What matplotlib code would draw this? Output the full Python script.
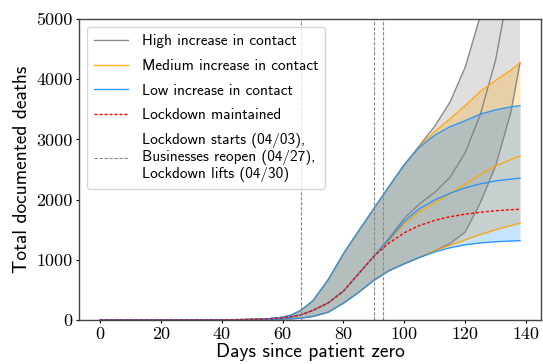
import matplotlib
matplotlib.use("Agg")
import matplotlib.pyplot as plt

days = [0, 10, 20, 30, 40, 45, 50, 55, 60, 63, 66, 70, 75, 80, 85, 90, 95, 100,
        105, 110, 115, 120, 125, 130, 135, 138]

# Lockdown maintained
lockdown = [0, 0, 0, 1, 3, 5, 9, 17, 35, 55, 85, 160, 285, 480, 770, 1060, 1280, 1450,
            1570, 1655, 1715, 1758, 1790, 1815, 1832, 1840]

# High increase in contact (low / mid / high)
high_lo = [0, 0, 0, 0, 1, 2, 4, 8, 15, 22, 30, 60, 130, 280, 460, 660, 820, 935,
           1040, 1150, 1270, 1460, 1950, 2560, 3450, 4270]
high_mid = [0, 0, 0, 1, 3, 5, 9, 17, 35, 55, 85, 160, 285, 480, 770, 1060, 1360, 1690,
            1930, 2120, 2370, 2780, 3420, 4320, 5700, 6700]
high_hi = [0, 0, 0, 1, 4, 6, 10, 20, 45, 85, 160, 320, 670, 1100, 1480, 1850, 2220, 2580,
           2900, 3220, 3620, 4200, 5060, 6200, 7600, 8600]

# Medium increase in contact
med_lo = [0, 0, 0, 0, 1, 2, 4, 8, 15, 22, 30, 60, 130, 280, 460, 660, 820, 935,
          1040, 1150, 1240, 1330, 1420, 1500, 1570, 1606]
med_mid = [0, 0, 0, 1, 3, 5, 9, 17, 35, 55, 85, 160, 285, 480, 770, 1060, 1320, 1600,
           1800, 1950, 2095, 2255, 2415, 2560, 2665, 2724]
med_hi = [0, 0, 0, 1, 4, 6, 10, 20, 45, 85, 160, 320, 670, 1100, 1480, 1850, 2220, 2580,
          2880, 3130, 3340, 3560, 3800, 3980, 4150, 4270]

# Low increase in contact
low_lo = [0, 0, 0, 0, 1, 2, 4, 8, 15, 22, 30, 60, 130, 280, 460, 660, 820, 935,
          1040, 1130, 1200, 1250, 1280, 1300, 1312, 1318]
low_mid = [0, 0, 0, 1, 3, 5, 9, 17, 35, 55, 85, 160, 285, 480, 770, 1060, 1340, 1640,
           1850, 1995, 2105, 2195, 2262, 2310, 2340, 2355]
low_hi = [0, 0, 0, 1, 4, 6, 10, 20, 45, 85, 160, 320, 670, 1100, 1480, 1850, 2220, 2580,
          2870, 3070, 3210, 3310, 3420, 3490, 3540, 3560]

event_days = [66, 90, 93]

labels = ["High increase in contact", "Medium increase in contact",
          "Low increase in contact", "Lockdown maintained",
          "Lockdown starts (04/03),\nBusinesses reopen (04/27),\nLockdown lifts (04/30)"]

C_GRAY = "#808080"
C_ORANGE = "#ffa500"
C_BLUE = "#1e90ff"

fig = plt.figure(figsize=(5.43, 3.64), dpi=100)
ax = fig.add_axes([79/543, 44/364, 462/543, 301/364])

sans = "cmss10"
serif = "cmr10"

scen = [(high_lo, high_mid, high_hi, C_GRAY, labels[0]),
        (med_lo, med_mid, med_hi, C_ORANGE, labels[1]),
        (low_lo, low_mid, low_hi, C_BLUE, labels[2])]

for lo, mid, hi, c, lab in scen:
    ax.fill_between(days, lo, hi, color=c, alpha=0.25, linewidth=0)
    ax.plot(days, lo, color=c, lw=1.0, alpha=0.9)
    ax.plot(days, mid, color=c, lw=1.0, alpha=0.9)
    ax.plot(days, hi, color=c, lw=1.0, alpha=0.9, label=lab)

ax.plot(days, lockdown, color="red", lw=1.0, ls=(0, (2.2, 1.4)), label=labels[3])

for i, d in enumerate(event_days):
    ax.axvline(d, color="#888888", lw=0.8, ls=(0, (3, 1.5)),
               label=labels[4] if i == 0 else None)

ax.set_xlim(-6.9, 144.9)
ax.set_ylim(0, 5000)
ax.set_xticks([0, 20, 40, 60, 80, 100, 120, 140])
ax.set_yticks([0, 1000, 2000, 3000, 4000, 5000])
for t in ax.get_xticklabels() + ax.get_yticklabels():
    t.set_fontfamily(serif)
    t.set_fontsize(13)
ax.tick_params(length=2.5, width=0.8, pad=2)

ax.set_xlabel("Days since patient zero", fontfamily=sans, fontsize=14, labelpad=1)
ax.set_ylabel("Total documented deaths", fontfamily=sans, fontsize=14, labelpad=4)

for s in ax.spines.values():
    s.set_color("#444444")
    s.set_linewidth(1.0)

leg = ax.legend(loc="upper left", prop={"family": sans, "size": 11},
                frameon=True, fancybox=True, framealpha=0.8, edgecolor="#cccccc",
                handlelength=2.2, handletextpad=0.9, borderpad=0.45,
                labelspacing=0.7, bbox_to_anchor=(0.0, 1.0), borderaxespad=0.55)

fig.savefig("out.png", dpi=100)
